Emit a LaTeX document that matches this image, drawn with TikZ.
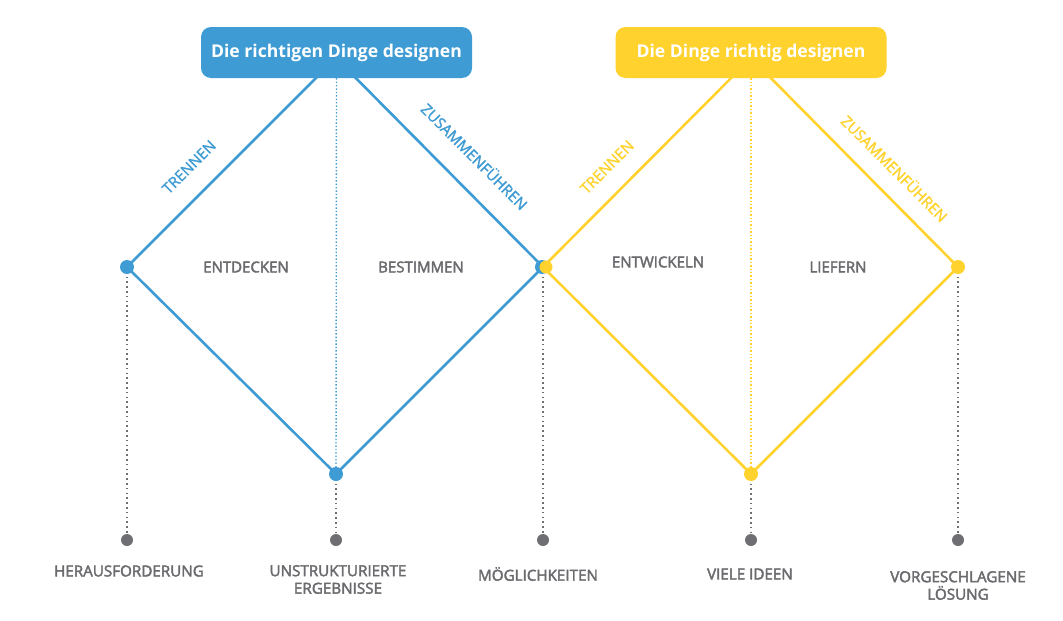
\documentclass[tikz,border=0pt]{standalone}
\usepackage{fontspec}
\setmainfont{Open Sans}
\newfontfamily\medfont{Open Sans}[FakeBold=2.6]
\newfontfamily\lblfont{Open Sans}[FakeBold=1.6]
\definecolor{dblue}{HTML}{3F9BD3}
\definecolor{dyellow}{HTML}{FFD22E}
\definecolor{dgrey}{HTML}{6E6E73}
\definecolor{tgrey}{HTML}{6B6B6F}
\begin{document}
\begin{tikzpicture}[x=1pt,y=-1pt,
  bline/.style={line width=2.6pt,line join=miter},
  gdots/.style={dgrey,line width=1.6pt,dash pattern=on 1.6pt off 3.2pt},
  cdots/.style={line width=1.4pt,dash pattern=on 1.4pt off 2pt},
  vdot/.style={circle,inner sep=0pt,minimum size=14pt},
  gdot/.style={circle,inner sep=0pt,minimum size=12pt,fill=dgrey},
  titlebox/.style={rounded corners=10pt,minimum width=271pt,minimum height=51pt,inner sep=0pt,text=white,font=\fontsize{17.6}{20}\selectfont\bfseries},
  phase/.style={text=tgrey,font=\medfont\fontsize{15}{17}\selectfont},
  bottomlbl/.style={text=tgrey,font=\medfont\fontsize{15.2}{17.5}\selectfont,align=center},
  diaglbl/.style={font=\lblfont\fontsize{15}{17}\selectfont,inner sep=0pt}
]
\useasboundingbox (0,0) rectangle (1063,621);
% geometry
\coordinate (bT) at (336,58);
\coordinate (bL) at (127,267);
\coordinate (bB) at (336,474);
\coordinate (mid) at (543,267);
\coordinate (yT) at (751,58);
\coordinate (yB) at (751,474);
\coordinate (yR) at (958,267);
% grey dots
\node[gdot] (g1) at (127,540) {};
\node[gdot] (g2) at (336,540) {};
\node[gdot] (g3) at (543,540) {};
\node[gdot] (g4) at (751,540) {};
\node[gdot] (g5) at (958,540) {};
% grey dotted verticals
\draw[gdots] (bL) -- (g1);
\draw[gdots] (bB) -- (g2);
\draw[gdots] (mid) -- (g3);
\draw[gdots] (yB) -- (g4);
\draw[gdots] (yR) -- (g5);
% diamonds
\draw[bline,dblue] (bL) -- (bT) -- (mid) -- (bB) -- cycle;
\draw[bline,dyellow] (mid) -- (yT) -- (yR) -- (yB) -- cycle;
% title boxes
\node[titlebox,fill=dblue] (bbox) at (336.5,52.5) {Die richtigen Dinge designen};
\node[titlebox,fill=dyellow] (ybox) at (751,52.5) {Die Dinge richtig designen};
% colored dotted centre lines
\draw[cdots,dblue] (bbox.south) -- (bB);
\draw[cdots,dyellow] (ybox.south) -- (yB);
% vertex dots
\node[vdot,fill=dblue] (dbL) at (bL) {};
\node[vdot,fill=dblue] (dbB) at (bB) {};
\node[vdot,fill=dblue] (dmb) at ([xshift=-1pt]mid) {};
\node[vdot,fill=dyellow,minimum size=13pt] (dmy) at ([xshift=3pt]mid) {};
\node[vdot,fill=dyellow] (dyB) at (yB) {};
\node[vdot,fill=dyellow] (dyR) at (yR) {};
% phase labels
\node[phase] (l1) at (246,267) {ENTDECKEN};
\node[phase] (l2) at (421,267) {BESTIMMEN};
\node[phase] (l3) at (658,262) {ENTWICKELN};
\node[phase] (l4) at (838,267) {LIEFERN};
% diagonal labels
\node[diaglbl,dblue,rotate=45] (t1) at (189,167) {TRENNEN};
\node[diaglbl,dblue,rotate=-45] (z1) at (475,156) {ZUSAMMENFÜHREN};
\node[diaglbl,dyellow,rotate=45] (t2) at (607,167) {TRENNEN};
\node[diaglbl,dyellow,rotate=-45] (z2) at (895,168) {ZUSAMMENFÜHREN};
% bottom labels
\node[bottomlbl] (b1) at (129,571) {HERAUSFORDERUNG};
\node[bottomlbl] (b2) at (338,579.5) {UNSTRUKTURIERTE\\ERGEBNISSE};
\node[bottomlbl] (b3) at (538,574) {MÖGLICHKEITEN};
\node[bottomlbl] (b4) at (750,574) {VIELE IDEEN};
\node[bottomlbl] (b5) at (958,585.5) {VORGESCHLAGENE\\LÖSUNG};
\end{tikzpicture}
\end{document}
